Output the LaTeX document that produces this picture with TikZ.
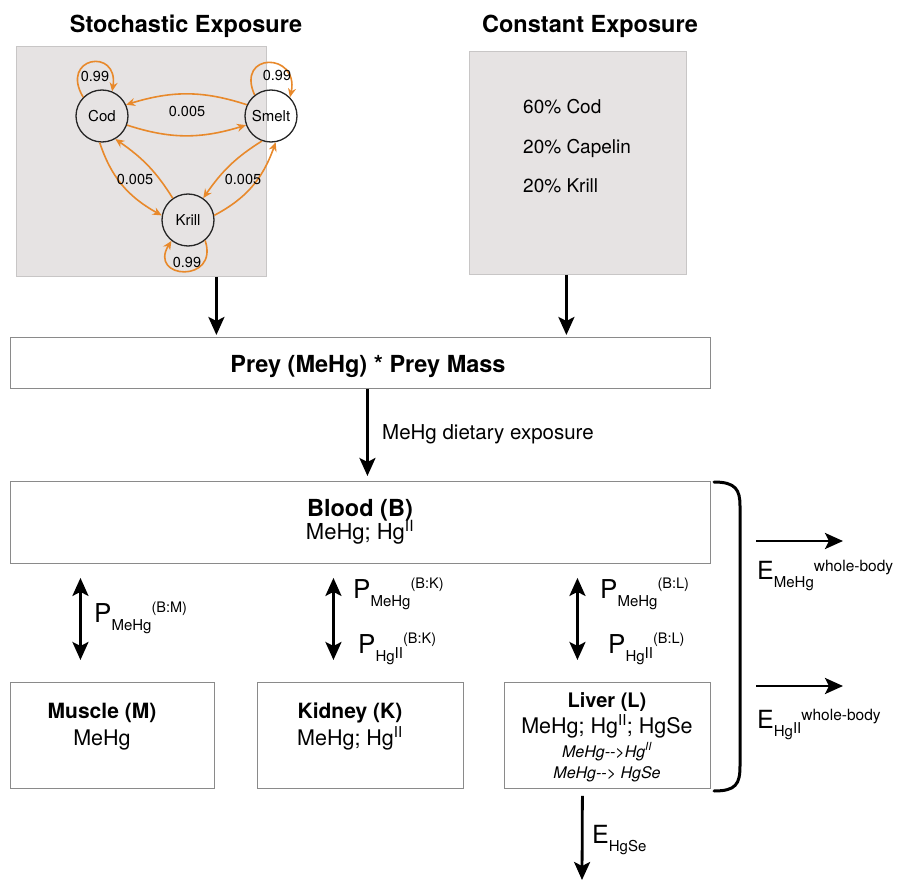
\documentclass[tikz,border=0pt]{standalone}
\usepackage{fontspec}
\setmainfont{TeX Gyre Heros}
\usetikzlibrary{arrows.meta,bending}
\definecolor{orng}{HTML}{E8892B}
\definecolor{boxgray}{HTML}{E6E3E3}
\definecolor{edgegray}{HTML}{C8C6C6}
\definecolor{lgray}{HTML}{8A8A8A}
\newcommand{\fs}[1]{\fontsize{#1}{#1}\selectfont}
\newcommand{\hgii}{Hg\textsuperscript{II}}
\newcommand{\plab}[2]{{\fs{26}P}\raisebox{-8pt}{\fs{15}#1}\raisebox{10pt}{\fs{14.5}#2}}
\newcommand{\elab}[2]{{\fs{25}E}\raisebox{-8pt}{\fs{15}#1}\raisebox{8pt}{\fs{15.5}#2}}
\begin{document}
\begin{tikzpicture}[x=1pt,y=-1pt,
  expbox/.style={draw=edgegray,fill=boxgray,line width=0.8pt,inner sep=0pt,anchor=north west},
  plainbox/.style={draw=lgray,line width=0.9pt,inner sep=0pt,anchor=north west},
  state/.style={circle,draw=black!85,line width=1.3pt,minimum size=52pt,inner sep=0pt,font=\fs{15}},
  oarr/.style={draw=orng,line width=1.6pt,-{Stealth[length=9pt,width=8pt,bend]}},
  olab/.style={font=\fs{14.5},inner sep=1pt},
  barrow/.style={line width=2.8pt,-{Stealth[length=18pt,width=16pt,inset=4pt]}},
  darrow/.style={line width=2.8pt,{Stealth[length=18pt,width=16pt,inset=4pt]}-{Stealth[length=18pt,width=16pt,inset=4pt]}},
  txt/.style={inner sep=0pt,anchor=base},
  txtl/.style={inner sep=0pt,anchor=base west}
]
\useasboundingbox (0,0) rectangle (898,880);

% titles
\node[txt,font=\bfseries\fs{23.5}] (t1) at (186,33) {Stochastic Exposure};
\node[txt,font=\bfseries\fs{23.5}] (t2) at (590,33) {Constant Exposure};

% exposure boxes
\node[expbox,minimum width=250pt,minimum height=230pt] (stoch) at (16,46) {};
\node[expbox,minimum width=217pt,minimum height=223pt] (const) at (469,51) {};

% markov chain
\node[state] (cod) at (102,116) {Cod};
\node[state] (smelt) at (271,116) {Smelt};
\node[state] (krill) at (188,220) {Krill};

\draw[oarr] (smelt.155) to[bend right=18] (cod.25);
\draw[oarr] (cod.-20) to[bend right=18] (smelt.200);
\draw[oarr] (cod.-95) to[bend right=22] (krill.170);
\draw[oarr] (krill.125) to[bend right=12] (cod.-60);
\draw[oarr] (smelt.-110) to[bend right=12] (krill.55);
\draw[oarr] (krill.10) to[bend right=22] (smelt.-80);

\draw[oarr] (cod.135) .. controls +(-25,-42) and +(12,-45) .. (cod.68);
\draw[oarr] (smelt.128) .. controls +(-20,-45) and +(15,-45) .. (smelt.45);
\draw[oarr] (krill.-50) .. controls +(15,45) and +(-30,38) .. (krill.-128);

\node[olab] (l1) at (95,76) {0.99};
\node[olab] (l2) at (277,75) {0.99};
\node[olab] (l3) at (187,262) {0.99};
\node[olab] (l4) at (187,111) {0.005};
\node[olab] (l5) at (135,179) {0.005};
\node[olab] (l6) at (243,179) {0.005};

% constant exposure text
\node[txtl,font=\fs{19}] (c1) at (523,114) {60\% Cod};
\node[txtl,font=\fs{19}] (c2) at (523,154) {20\% Capelin};
\node[txtl,font=\fs{19}] (c3) at (523,193) {20\% Krill};

% prey
\node[plainbox,minimum width=700pt,minimum height=51pt] (prey) at (10,337) {};
\node[txt,font=\bfseries\fs{23.5}] (preyt) at (368,372) {Prey (MeHg) * Prey Mass};

\draw[barrow,shorten >=2pt] ([xshift=75pt]stoch.south) -- ([xshift=75pt]stoch.south |- prey.north);
\draw[barrow,shorten >=2pt] ([xshift=-11.5pt]const.south) -- ([xshift=-11.5pt]const.south |- prey.north);

% blood
\node[plainbox,minimum width=700pt,minimum height=82pt] (blood) at (10,481) {};
\node[txt,font=\bfseries\fs{23.5}] (bt1) at (360,516) {Blood (B)};
\node[txt,font=\fs{22}] (bt2) at (360,539) {MeHg; \hgii};

\draw[barrow,shorten >=5pt] ([xshift=7pt]prey.south) -- ([xshift=7pt]prey.south |- blood.north);
\node[txtl,font=\fs{20.5}] (diet) at (382,439) {MeHg dietary exposure};

% organs
\node[plainbox,minimum width=204pt,minimum height=106pt] (muscle) at (10,682) {};
\node[plainbox,minimum width=206pt,minimum height=106pt] (kidney) at (257,682) {};
\node[plainbox,minimum width=206pt,minimum height=106pt] (liver) at (504,682) {};

\node[txt,font=\bfseries\fs{21}] (mt1) at (102,718) {Muscle (M)};
\node[txt,font=\fs{21.5}] (mt2) at (102,745) {MeHg};
\node[txt,font=\bfseries\fs{21}] (kt1) at (350,718) {Kidney (K)};
\node[txt,font=\fs{21.5}] (kt2) at (350,745) {MeHg; \hgii};
\node[txt,font=\bfseries\fs{20}] (lt1) at (607,707) {Liver (L)};
\node[txt,font=\fs{21.5}] (lt2) at (607,733) {MeHg; \hgii; HgSe};
\node[txt,font=\itshape\fs{16}] (lt3) at (607,757) {MeHg-{}->\hgii};
\node[txt,font=\itshape\fs{16}] (lt4) at (607,778) {MeHg-{}-> HgSe};

% exchange arrows
\draw[darrow,shorten <=14pt,shorten >=22pt] ([xshift=-32pt]muscle.north |- blood.south) -- ([xshift=-32pt]muscle.north);
\draw[darrow,shorten <=14pt,shorten >=22pt] ([xshift=-27pt]kidney.north |- blood.south) -- ([xshift=-27pt]kidney.north);
\draw[darrow,shorten <=14pt,shorten >=22pt] ([xshift=-30pt]liver.north |- blood.south) -- ([xshift=-30pt]liver.north);

\node[txtl] (pm) at (94,622) {\plab{MeHg}{(B:M)}};
\node[txtl] (pk1) at (353,598) {\plab{MeHg}{(B:K)}};
\node[txtl] (pk2) at (358,653) {\plab{Hg\raisebox{3pt}{II}}{(B:K)}};
\node[txtl] (pl1) at (600,598) {\plab{MeHg}{(B:L)}};
\node[txtl] (pl2) at (608,653) {\plab{Hg\raisebox{3pt}{II}}{(B:L)}};

% bracket
\coordinate (brt) at (714,482);
\coordinate (brb) at (714,791);
\draw[line width=3pt,line cap=round] (brt) .. controls (736,482) and (740,490) .. (740,506) -- (740,766) .. controls (740,784) and (736,791) .. (brb);

% excretion
\coordinate (e1a) at (756,541);
\coordinate (e1b) at (843,541);
\coordinate (e2a) at (756,686);
\coordinate (e2b) at (843,686);
\draw[barrow] (e1a) -- (e1b);
\draw[barrow] (e2a) -- (e2b);
\node[txtl] (em) at (757,579) {\elab{MeHg}{whole-body}};
\node[txtl] (eh) at (757,728) {\elab{Hg\raisebox{3pt}{II}}{whole-body}};

\coordinate (hgse) at (582,880);
\draw[barrow,shorten <=7pt] ([xshift=-25pt]liver.south) -- (hgse);
\node[txtl] (es) at (592,843) {{\fs{25}E}\raisebox{-8pt}{\fs{15}HgSe}};
\end{tikzpicture}
\end{document}
